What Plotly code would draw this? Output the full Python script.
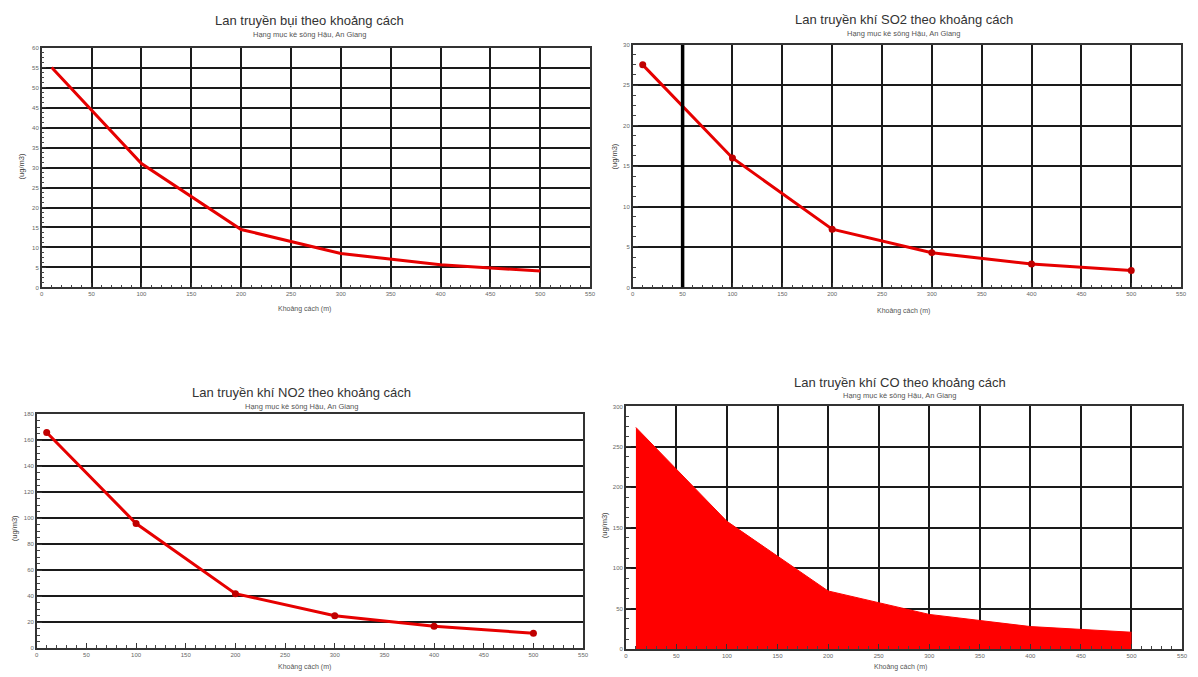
import plotly.graph_objects as go
from plotly.subplots import make_subplots

distance = [10, 100, 200, 300, 400, 500]
dust = [55, 31, 14.5, 8.5, 5.7, 4.1]
so2 = [27.5, 16.0, 7.2, 4.3, 2.9, 2.1]
no2 = [166, 96, 42, 25, 17, 11.5]
co = [274, 158, 72, 43, 28, 21]

titles = ["Lan truyền bụi theo khoảng cách", "Lan truyền khí SO2 theo khoảng cách",
          "Lan truyền khí NO2 theo khoảng cách", "Lan truyền khí CO theo khoảng cách"]
subtitle = "Hạng mục kè sông Hậu, An Giang"
xtitle = "Khoảng cách (m)"
ytitle = "(ug/m3)"
x_ticks = list(range(0, 551, 50))

W, H = 1198, 677
FONT = "Liberation Sans"

fig = make_subplots(rows=2, cols=2)

RED = "#e60000"
fig.add_trace(go.Scatter(x=distance, y=dust, mode="lines",
                         line=dict(color=RED, width=3)), row=1, col=1)
fig.add_trace(go.Scatter(x=distance, y=so2, mode="lines+markers",
                         line=dict(color=RED, width=3),
                         marker=dict(color="#c00000", size=7)), row=1, col=2)
fig.add_trace(go.Scatter(x=distance, y=no2, mode="lines+markers",
                         line=dict(color=RED, width=3),
                         marker=dict(color="#c00000", size=7)), row=2, col=1)
fig.add_trace(go.Scatter(x=distance, y=co, mode="lines", fill="tozeroy",
                         fillcolor="#ff0000", line=dict(color="#ff0000", width=1)), row=2, col=2)

def px_x(a, b):
    return [a / W, b / W]

def px_y(top, bottom):
    return [1 - bottom / H, 1 - top / H]

panels = [
    ("xaxis", "yaxis", (40, 592), (45, 287), 60, 5, True),
    ("xaxis2", "yaxis2", (635, 1187), (42, 287), 30, 5, True),
    ("xaxis3", "yaxis3", (35, 585), (415, 651), 180, 20, False),
    ("xaxis4", "yaxis4", (628, 1188), (407, 652), 300, 50, True),
]

for xa, ya, (xl, xr), (yt, yb), ymax, ydt, vgrid in panels:
    fig.layout[xa].update(
        domain=px_x(xl, xr), range=[0, 550], tickvals=x_ticks,
        showgrid=vgrid, gridcolor="#1a1a1a", gridwidth=1.5,
        showline=True, linecolor="#333", linewidth=1.5, mirror=True,
        ticks="inside", ticklen=5, tickcolor="#333",
        minor=dict(dtick=10, ticks="inside", ticklen=3, tickcolor="#444", showgrid=False),
        tickfont=dict(size=6, color="#666", family=FONT), zeroline=False,
    )
    fig.layout[ya].update(
        domain=px_y(yt, yb), range=[0, ymax], dtick=ydt,
        showgrid=True, gridcolor="#1a1a1a", gridwidth=1.5,
        showline=True, linecolor="#333", linewidth=1.5, mirror=True,
        ticks="inside", ticklen=5, tickcolor="#333",
        minor=dict(dtick=ydt / 4, ticks="inside", ticklen=3, tickcolor="#444", showgrid=False),
        tickfont=dict(size=6, color="#666", family=FONT), zeroline=False,
    )

fig.add_shape(type="line", xref="x2", yref="y2", x0=50, x1=50, y0=0, y1=30,
              line=dict(color="#000", width=3.5))

annots = []
title_pos = [(310, 18, 32), (908, 17, 31), (302, 393, 407), (904, 383, 396)]
for t, (cx, ty, sy) in zip(titles, title_pos):
    annots.append(dict(text=t, x=cx / W, y=1 - ty / H, xref="paper", yref="paper",
                       showarrow=False, font=dict(size=13, color="#333", family=FONT),
                       xanchor="center", yanchor="middle"))
    annots.append(dict(text=subtitle, x=cx / W, y=1 - sy / H, xref="paper", yref="paper",
                       showarrow=False, font=dict(size=7.5, color="#555", family=FONT),
                       xanchor="center", yanchor="middle"))

xt_pos = [(305, 309), (908, 311), (305, 670), (905, 670)]
for (cx, cy) in xt_pos:
    annots.append(dict(text=xtitle, x=cx / W, y=1 - cy / H, xref="paper", yref="paper",
                       showarrow=False, font=dict(size=7, color="#555", family=FONT),
                       xanchor="center", yanchor="middle"))

yt_pos = [(20, 165), (617, 155), (12, 530), (606, 527)]
for (cx, cy) in yt_pos:
    annots.append(dict(text=ytitle, x=cx / W, y=1 - cy / H, xref="paper", yref="paper",
                       showarrow=False, textangle=-90,
                       font=dict(size=7.5, color="#444", family=FONT),
                       xanchor="center", yanchor="middle"))

fig.update_layout(
    width=W, height=H, margin=dict(l=0, r=0, t=0, b=0),
    paper_bgcolor="white", plot_bgcolor="white", showlegend=False,
    annotations=annots, font=dict(family=FONT),
)

fig.write_html("out.html", config={"displayModeBar": False},
               post_script="document.body.style.margin='0';document.body.style.padding='0';"
                           "document.body.style.overflow='hidden';")
